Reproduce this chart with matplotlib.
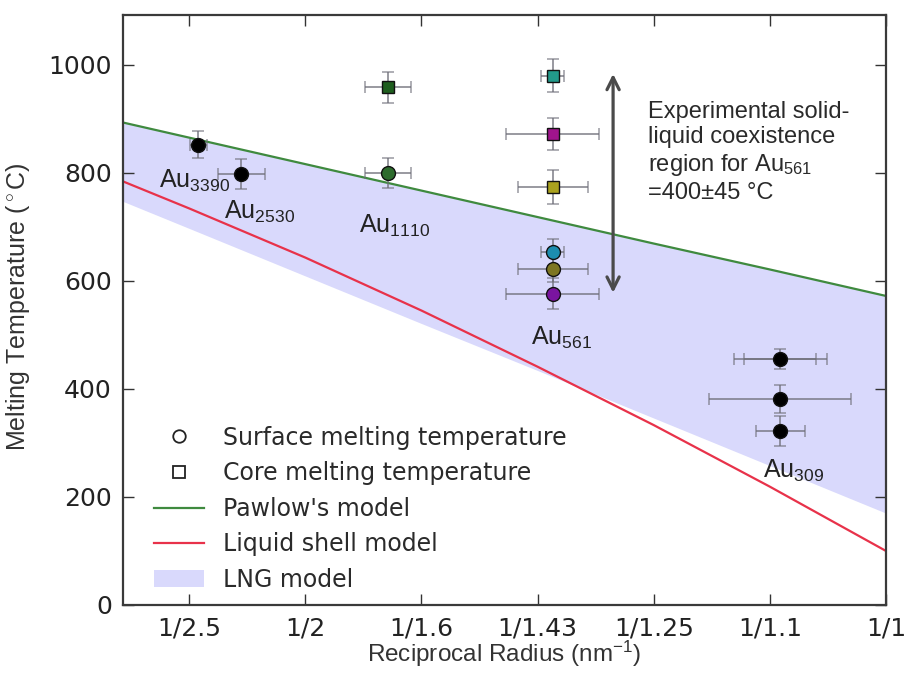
import matplotlib
matplotlib.use("Agg")
import matplotlib.pyplot as plt
from matplotlib.lines import Line2D
from matplotlib.patches import Patch

plt.rcParams["mathtext.fontset"] = "custom"
plt.rcParams["mathtext.rm"] = "Liberation Sans"
plt.rcParams["mathtext.it"] = "Liberation Sans:italic"

# ---- model curves (reciprocal radius axis) ----
model_x = [0.343, 0.4, 0.5, 0.6, 0.7, 0.8, 0.9, 1.0]
pawlow = [893, 865, 816, 767, 718, 669, 621, 572]
liquid_shell = [784, 734, 643, 545, 441, 333, 219, 100]
lng_lower = [747, 697, 609, 521, 434, 346, 258, 170]

# ---- tick labels ----
tick_pos = [0.4, 0.5, 0.6, 0.7, 0.8, 0.9, 1.0]
tick_labels = ["1/2.5", "1/2", "1/1.6", "1/1.43", "1/1.25", "1/1.1", "1/1"]

# ---- measured melting temperatures ----
# Au3390 / Au2530 surface melting
au3390_x, au3390_y, au3390_xerr, au3390_yerr = 0.408, 852, 0.007, 25
au2530_x, au2530_y, au2530_xerr, au2530_yerr = 0.445, 798, 0.020, 28

# Au1110: surface (circle) and core (square)
au1110_x = 0.571
au1110_surf, au1110_core = 800, 958
au1110_xerr, au1110_yerr = 0.020, 28

# Au561: three core and three surface measurements
au561_x = 0.713
au561_core = [980, 872, 774]
au561_core_xerr = [0.010, 0.040, 0.030]
au561_core_yerr = [31, 29, 32]
au561_core_colors = ["#22998a", "#a0148c", "#aaa21e"]
au561_surf = [653, 622, 576]
au561_surf_xerr = [0.010, 0.030, 0.040]
au561_surf_yerr = [25, 25, 29]
au561_surf_colors = ["#1c8db0", "#7d7622", "#7a14a0"]

# Au309 surface melting
au309_x = 0.909
au309_y = [455, 381, 322]
au309_xerr = [0.040, 0.061, 0.021]
au309_yerr = [18, 26, 28]
au309_top_inner_xerr = 0.031

# coexistence region arrow
arrow_x, arrow_top, arrow_bottom = 0.765, 983, 578

fig = plt.figure(figsize=(9.07, 6.73), dpi=100)
ax = fig.add_axes([123 / 907, 1 - 605 / 673, (886 - 123) / 907, (605 - 15) / 673])

label_font = ["Liberation Sans", "DejaVu Sans"]
tick_font = "DejaVu Sans"
band_color = (0.85, 0.85, 0.99)

# LNG model band and model lines
ax.fill_between(model_x, lng_lower, pawlow, color=band_color, lw=0, zorder=1)
ax.plot(model_x, pawlow, color="#3f8a3f", lw=1.6, zorder=2)
ax.plot(model_x, liquid_shell, color="#e8324a", lw=1.6, zorder=2)

err_kw = dict(ecolor="#6e6e78", elinewidth=1.4, capsize=4, capthick=1.1, alpha=0.7)


def point(x, y, xe, ye, marker, face, ms=10):
    ax.errorbar(x, y, xerr=xe, yerr=ye, fmt="none", zorder=3, **err_kw)
    ax.plot(x, y, marker=marker, ls="none", ms=ms, mfc=face, mec="#111111",
            mew=1.0, zorder=4)


point(au3390_x, au3390_y, au3390_xerr, au3390_yerr, "o", "black")
point(au2530_x, au2530_y, au2530_xerr, au2530_yerr, "o", "black")
point(au1110_x, au1110_surf, au1110_xerr, au1110_yerr, "o", "#2d6b2d")
point(au1110_x, au1110_core, au1110_xerr, au1110_yerr, "s", "#1e5e1e", ms=9)

for y, xe, ye, c in zip(au561_core, au561_core_xerr, au561_core_yerr, au561_core_colors):
    point(au561_x, y, xe, ye, "s", c, ms=9)
for y, xe, ye, c in zip(au561_surf, au561_surf_xerr, au561_surf_yerr, au561_surf_colors):
    point(au561_x, y, xe, ye, "o", c)

ax.errorbar(au309_x, au309_y[0], xerr=au309_top_inner_xerr, fmt="none", zorder=3, **err_kw)
for y, xe, ye in zip(au309_y, au309_xerr, au309_yerr):
    point(au309_x, y, xe, ye, "o", "black")

# double-headed arrow for the coexistence region
ax.annotate("", xy=(arrow_x, arrow_top), xytext=(arrow_x, arrow_bottom),
            arrowprops=dict(arrowstyle="<->", color="#4a4a4a", lw=2.3,
                            mutation_scale=22, shrinkA=0, shrinkB=0), zorder=5)

ax.text(0.795, 933,
        "Experimental solid-\nliquid coexistence\nregion for Au$_{561}$\n=400\u00b145 \u00b0C",
        fontsize=17, family=label_font, color="#2a2a2a", ha="left", va="top",
        linespacing=1.2)

# cluster labels
size_labels = [("Au$_{3390}$", 0.374, 772), ("Au$_{2530}$", 0.430, 715),
               ("Au$_{1110}$", 0.546, 689), ("Au$_{561}$", 0.694, 481),
               ("Au$_{309}$", 0.894, 235)]
for txt, x, y in size_labels:
    ax.text(x, y, txt, fontsize=18, family=label_font, color="#222222",
            ha="left", va="baseline")

ax.set_xlim(0.343, 1.0)
ax.set_ylim(0, 1092)
ax.set_xticks(tick_pos)
ax.set_xticklabels(tick_labels)
ax.set_yticks([0, 200, 400, 600, 800, 1000])
ax.tick_params(direction="in", length=8, width=1.0, top=True, right=True,
               labelsize=18, pad=8, colors="#333333", labelcolor="#222222")
for lab in ax.get_xticklabels() + ax.get_yticklabels():
    lab.set_family(tick_font)
for s in ax.spines.values():
    s.set_linewidth(1.6)
    s.set_color("#3a3a3a")

ax.set_xlabel("Reciprocal Radius (nm$^{-1}$)", fontsize=17.5, family=label_font,
              color="#333333")
ax.xaxis.set_label_coords(0.5, -0.058)
ax.set_ylabel("Melting Temperature ($^\\circ$C)", fontsize=18, family=label_font,
              color="#333333")
ax.yaxis.set_label_coords(-0.119, 0.505)

handles = [
    Line2D([], [], marker="o", ls="none", mfc="white", mec="#222222", ms=9, mew=1.3),
    Line2D([], [], marker="s", ls="none", mfc="white", mec="#222222", ms=8, mew=1.3),
    Line2D([], [], color="#3f8a3f", lw=1.6),
    Line2D([], [], color="#e8324a", lw=1.6),
    Patch(facecolor=band_color, edgecolor="none"),
]
labels = ["Surface melting temperature", "Core melting temperature",
          "Pawlow's model", "Liquid shell model", "LNG model"]
leg = ax.legend(handles, labels, loc="lower left", bbox_to_anchor=(0.0195, -0.006),
                frameon=False, prop={"family": "DejaVu Sans", "size": 17},
                handlelength=2.1, handletextpad=0.8, labelspacing=0.49,
                borderpad=0.2)
for t in leg.get_texts():
    t.set_color("#2a2a2a")

fig.savefig("out.png", dpi=100)
